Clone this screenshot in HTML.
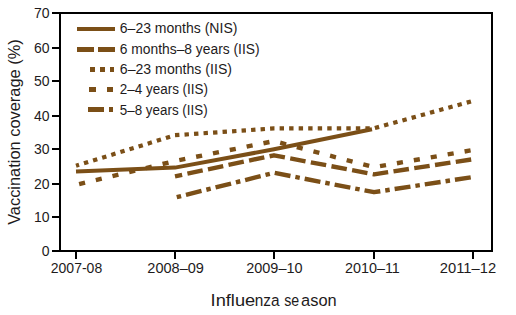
<!DOCTYPE html>
<html><head><meta charset="utf-8"><style>
html,body{margin:0;padding:0;background:#fff;width:516px;height:315px;overflow:hidden;}
svg text{font-family:"Liberation Sans",sans-serif;}
</style></head><body>
<svg width="516" height="315" viewBox="0 0 516 315" style="position:absolute;left:0;top:0"><g stroke="#000" stroke-width="2" fill="none" shape-rendering="crispEdges"><path d="M52,13 H492 V251 H52 M60,13 V251"/><path d="M52,13 H60"/><path d="M52,48 H60"/><path d="M52,81 H60"/><path d="M52,116 H60"/><path d="M52,149 H60"/><path d="M52,184 H60"/><path d="M52,217 H60"/><path d="M52,251 H60"/><path d="M76,251 V259"/><path d="M175,251 V259"/><path d="M274,251 V259"/><path d="M374,251 V259"/><path d="M473,251 V259"/></g><g stroke="#7B4F17" fill="none" stroke-linecap="butt" stroke-linejoin="round"><polyline points="76,171.5 175,167.6 274,149.3 372,129.3" stroke-width="4.0"/><polyline points="175,176.3 274,155.3 374,174.3 473,159.2" stroke-width="4.4" stroke-dasharray="15.6 5.4" stroke-dashoffset="8.3"/><polyline points="76,165.8 175,135.2 274,128.4 374,128.3 473,100.9" stroke-width="4.2" stroke-dasharray="4.4 5.13" stroke-dashoffset="1.2"/><polyline points="76,184.9 175,161 274,141.1 374,167.2 473,150" stroke-width="4.4" stroke-dasharray="6.1 11.07" stroke-dashoffset="13.97"/><polyline points="175,197.6 274,172.8 374,192.2 473,177" stroke-width="4.4" stroke-dasharray="4.5 5 16 5" stroke-dashoffset="-1.8"/></g><g fill="#7B4F17" shape-rendering="crispEdges"><rect x="77" y="27" width="38" height="4"/><rect x="77" y="47" width="17" height="5"/><rect x="98" y="47" width="17" height="5"/><rect x="90" y="67" width="5" height="5"/><rect x="100" y="67" width="5" height="5"/><rect x="110" y="67" width="4" height="5"/><rect x="89" y="87" width="7" height="5"/><rect x="107" y="87" width="6" height="5"/><rect x="88" y="107" width="16" height="5"/><rect x="109" y="107" width="4" height="5"/></g><g fill="#1e1b1c" font-family="Liberation Sans, sans-serif" font-size="14"><text x="49.5" y="18" text-anchor="end">70</text><text x="49.5" y="53" text-anchor="end">60</text><text x="49.5" y="86" text-anchor="end">50</text><text x="49.5" y="121" text-anchor="end">40</text><text x="49.5" y="154" text-anchor="end">30</text><text x="49.5" y="189" text-anchor="end">20</text><text x="49.5" y="222" text-anchor="end">10</text><text x="49.5" y="256" text-anchor="end">0</text><text x="76.5" y="272.7" text-anchor="middle">2007-08</text><text x="175.6" y="272.7" text-anchor="middle" textLength="56.6" lengthAdjust="spacingAndGlyphs">2008–09</text><text x="274.4" y="272.7" text-anchor="middle" textLength="56.3" lengthAdjust="spacingAndGlyphs">2009–10</text><text x="372.4" y="272.7" text-anchor="middle" textLength="54.9" lengthAdjust="spacingAndGlyphs">2010–11</text><text x="468" y="272.7" text-anchor="middle" textLength="56.3" lengthAdjust="spacingAndGlyphs">2011–12</text><text x="119.8" y="33" textLength="117.6" lengthAdjust="spacingAndGlyphs">6–23 months (NIS)</text><text x="119.8" y="54" textLength="139.8" lengthAdjust="spacingAndGlyphs">6 months–8 years (IIS)</text><text x="119.8" y="74.3" textLength="112.2" lengthAdjust="spacingAndGlyphs">6–23 months (IIS)</text><text x="119.8" y="94.3" textLength="88.2" lengthAdjust="spacingAndGlyphs">2–4 years (IIS)</text><text x="119.8" y="114.6" textLength="87.8" lengthAdjust="spacingAndGlyphs">5–8 years (IIS)</text></g><g fill="#1e1b1c" font-family="Liberation Sans, sans-serif" font-size="16.7"><text x="210.6" y="306.2" textLength="44.6" lengthAdjust="spacingAndGlyphs">Influe</text><text x="254.8" y="306.2" textLength="24.8" lengthAdjust="spacingAndGlyphs">nza</text><text x="284.2" y="306.2" textLength="15.0" lengthAdjust="spacingAndGlyphs">se</text><text x="301.1" y="306.2" textLength="35.6" lengthAdjust="spacingAndGlyphs">ason</text></g><text transform="translate(19.6,132.1) rotate(-90)" x="0" y="0" text-anchor="middle" fill="#1e1b1c" font-family="Liberation Sans, sans-serif" font-size="16.4">Vaccination coverage (%)</text></svg>
</body></html>
